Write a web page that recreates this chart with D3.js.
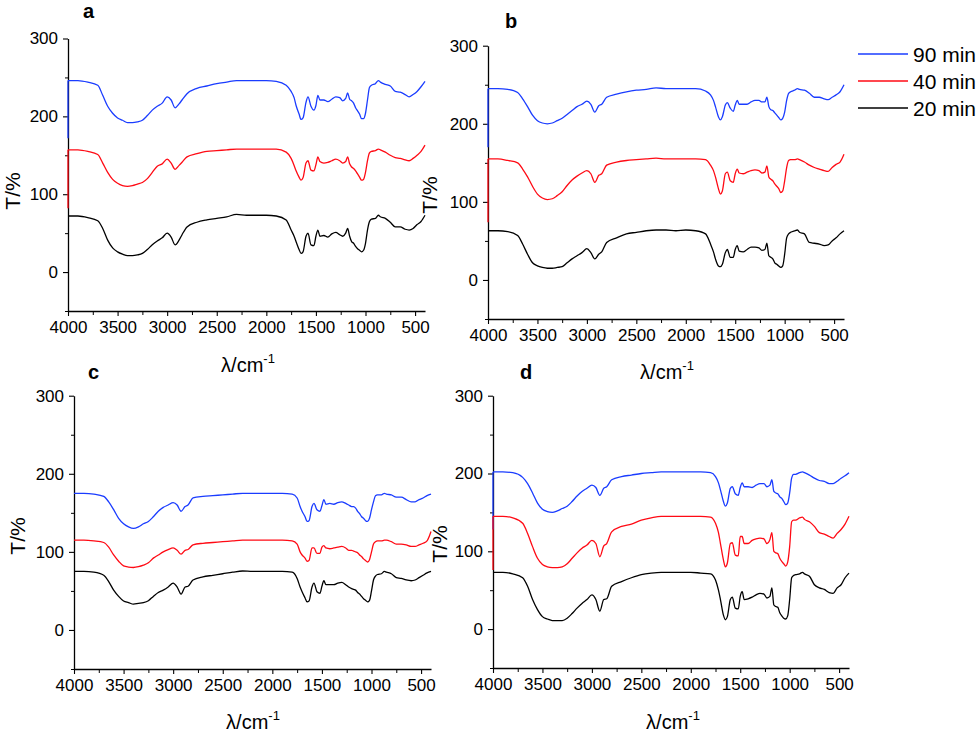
<!DOCTYPE html>
<html>
<head>
<meta charset="utf-8">
<script src="https://cdn.jsdelivr.net/npm/d3@7"></script>
<style>
  body { margin: 0; background: #fff; }
  svg { display: block; font-family: "Liberation Sans", Arial, sans-serif; }
</style>
</head>
<body>
<div id="chart"></div>
<script>
// wavenumber grid (cm-1) shared by all spectra
const WAVENUMBERS = [
  4000, 3900, 3800, 3700, 3650, 3600, 3550, 3500, 3450, 3400,
  3350, 3300, 3250, 3200, 3150, 3100, 3050, 3000, 2960, 2920,
  2880, 2850, 2800, 2700, 2600, 2500, 2400, 2300, 2200, 2100,
  2000, 1900, 1800, 1750, 1720, 1700, 1670, 1650, 1630, 1600,
  1580, 1550, 1520, 1500, 1480, 1460, 1420, 1380, 1340, 1300,
  1260, 1230, 1200, 1180, 1160, 1140, 1120, 1100, 1080, 1060,
  1040, 1020, 1000, 980, 960, 940, 900, 870, 850, 800,
  750, 700, 650, 600, 560, 520, 480, 440, 400
];

const SERIES_NAMES = ["90 min", "40 min", "20 min"];
const PANEL_LABELS = ["a", "b", "c", "d"];
const X_TICKS = [4000, 3500, 3000, 2500, 2000, 1500, 1000, 500];
const Y_TICKS = [0, 100, 200, 300];

// panel a
const A_90 = [
  246, 246, 244, 240, 227, 213, 204, 198, 195, 192,
  192, 193, 195, 201, 208, 213, 217, 225, 221, 211,
  216, 221, 229, 236, 239, 242, 244, 246, 246, 246,
  246, 245, 240, 232, 224, 214, 203, 196, 198, 218,
  225, 213, 208, 214, 227, 221, 221, 219, 222, 225,
  224, 220, 223, 230, 222, 220, 217, 211, 207, 203,
  197, 197, 204, 221, 237, 240, 242, 246, 244, 241,
  239, 232, 231, 228, 225, 228, 232, 238, 245
];
const A_40 = [
  157, 157, 155, 151, 140, 128, 119, 114, 111, 110,
  111, 113, 115, 120, 128, 136, 139, 145, 140, 132,
  137, 141, 148, 152, 155, 156, 157, 158, 158, 158,
  158, 158, 154, 146, 137, 130, 122, 118, 121, 140,
  143, 131, 130, 138, 148, 142, 140, 141, 143, 145,
  143, 140, 142, 148, 139, 135, 133, 130, 126, 122,
  118, 119, 128, 143, 153, 155, 156, 158, 157, 154,
  150, 147, 146, 144, 143, 146, 150, 155, 163
];
const A_20 = [
  72, 72, 70, 66, 56, 41, 31, 26, 23, 21,
  21, 22, 24, 29, 35, 40, 44, 50, 45, 35,
  41, 48, 58, 64, 67, 69, 71, 74, 73, 73,
  73, 72, 67, 54, 46, 39, 29, 24, 26, 46,
  50, 35, 34, 46, 54, 46, 47, 45, 49, 51,
  48, 46, 50, 56, 46, 39, 37, 33, 30, 28,
  26, 28, 37, 54, 65, 68, 69, 73, 71, 69,
  64, 58, 58, 55, 54, 56, 61, 65, 73
];

// panel b
const B_90 = [
  245, 245, 244, 240, 232, 222, 211, 204, 201, 200,
  201, 204, 207, 212, 217, 222, 225, 229, 225, 215,
  223, 225, 234, 238, 241, 243, 244, 246, 245, 245,
  245, 245, 242, 237, 230, 222, 209, 205, 209, 224,
  227, 220, 216, 224, 230, 225, 225, 225, 228, 230,
  230, 228, 228, 234, 222, 218, 217, 214, 211, 208,
  205, 207, 215, 230, 239, 241, 243, 245, 244, 243,
  239, 234, 234, 232, 231, 234, 237, 241, 250
];
const B_40 = [
  155, 155, 153, 150, 142, 132, 120, 110, 105, 103,
  104, 108, 113, 121, 128, 133, 137, 140, 136, 125,
  134, 136, 147, 151, 153, 154, 155, 156, 155, 155,
  155, 155, 154, 147, 140, 132, 117, 110, 114, 136,
  138, 127, 125, 136, 142, 137, 136, 138, 140, 141,
  140, 137, 138, 146, 132, 129, 127, 123, 120, 117,
  112, 114, 127, 144, 153, 154, 154, 155, 154, 151,
  147, 144, 142, 140, 139, 144, 148, 151, 161
];
const B_20 = [
  63, 63, 62, 57, 46, 33, 22, 18, 16, 15,
  15, 16, 17, 22, 27, 31, 35, 40, 35, 27,
  33, 36, 48, 54, 59, 61, 63, 64, 64, 63,
  64, 63, 59, 46, 36, 27, 18, 17, 20, 35,
  39, 29, 29, 39, 44, 37, 36, 39, 42, 42,
  41, 38, 39, 47, 31, 29, 27, 22, 20, 18,
  16, 18, 33, 54, 59, 61, 63, 64, 61, 59,
  48, 47, 46, 44, 45, 50, 54, 59, 63
];

// panel c
const C_90 = [
  175, 175, 174, 171, 164, 154, 143, 136, 132, 130,
  132, 136, 139, 145, 152, 157, 160, 163, 160, 152,
  158, 160, 169, 171, 172, 173, 174, 175, 175, 175,
  175, 175, 174, 169, 158, 152, 145, 139, 140, 158,
  162, 154, 152, 159, 167, 161, 162, 161, 163, 164,
  162, 160, 158, 158, 156, 152, 149, 145, 143, 140,
  139, 143, 154, 164, 172, 173, 173, 175, 174, 173,
  170, 170, 167, 164, 164, 167, 169, 172, 174
];
const C_40 = [
  115, 115, 114, 112, 106, 96, 88, 82, 80.5, 80,
  81, 83, 86, 92, 96, 100, 103, 105, 102, 97,
  102, 103, 109, 111, 112, 113, 114, 115, 115, 115,
  115, 115, 114, 110, 100, 96, 92, 88, 89, 105,
  105, 98, 98, 106, 108, 105, 104, 105, 106, 107,
  105, 102, 102, 101, 100, 99, 96, 94, 91, 89,
  87, 90, 100, 110, 113, 114, 114, 115, 115, 113,
  110, 110, 109, 107, 107, 109, 111, 114, 126
];
const C_20 = [
  75, 75, 74, 70, 62, 51, 43, 37, 35, 33,
  34, 35, 37.5, 43, 48, 51, 55, 60, 55, 46,
  55, 56, 64, 68, 70, 72, 74, 75.5, 75, 75,
  75, 75, 74, 66, 55, 49, 41, 36, 37, 55,
  60, 49, 47, 56, 63, 58, 58, 58, 60, 61,
  58, 55, 53, 52, 51, 48, 46, 43, 40, 38,
  36, 38, 50, 64, 69, 71, 72, 75, 74, 72,
  67, 66, 64, 63, 64, 67, 70, 73, 75
];

// panel d
const D_90 = [
  202, 202, 201, 195, 187, 175, 162, 154, 151, 150,
  152, 155, 158, 164, 171, 177, 181, 185, 182, 172,
  181, 183, 192, 196, 198, 200, 201, 202, 202, 202,
  202, 202, 201, 196, 188, 179, 164, 158, 162, 181,
  183, 174, 172, 182, 188, 183, 183, 182, 185, 187,
  187, 183, 185, 192, 177, 175, 174, 170, 168, 164,
  160, 162, 175, 194, 199, 199, 201, 202, 201, 198,
  194, 191, 190, 187, 187, 190, 194, 197, 201
];
const D_40 = [
  145, 145, 143, 136, 123, 106, 91, 83, 80, 79,
  79, 80, 84, 91, 98, 104, 108, 114, 110, 93,
  107, 110, 125, 132, 135, 140, 143, 145, 145, 145,
  145, 145, 144, 136, 124, 110, 89, 80, 85, 110,
  111, 95, 94, 119, 119, 110, 110, 114, 116, 117,
  116, 110, 115, 124, 100, 98, 97, 91, 87, 84,
  81, 86, 106, 138, 140, 140, 143, 144, 141, 138,
  132, 124, 122, 119, 117, 123, 128, 135, 145
];
const D_20 = [
  73, 73, 71, 66, 55, 38, 25, 16, 13, 11,
  11, 11, 14, 20, 27, 33, 38, 44, 38, 23,
  38, 39, 55, 61, 66, 70, 72, 73, 73, 73,
  73, 72, 71, 63, 50, 38, 18, 12, 16, 38,
  41, 27, 26, 42, 48, 38, 39, 41, 44, 46,
  45, 40, 42, 53, 31, 29, 28, 21, 17, 14,
  13, 17, 38, 66, 69, 70, 71, 73, 71, 68,
  57, 53, 51, 47, 46, 53, 57, 66, 72
];

// value at 4000 where each trace first drops in along the axis (90, 40, 20 min)
const START_DROP = [
  [172, 82, null],
  [170, 74, null],
  [null, null, null],
  [128, 76, null]
];

const PANEL_DATA = [
  [A_90, A_40, A_20],
  [B_90, B_40, B_20],
  [C_90, C_40, C_20],
  [D_90, D_40, D_20]
];

const colors = ["#1a3cff", "#ff0a14", "#000000"];

// layout (pixels)
const panels = [
  { x0: 68,  x1: 425, yTop: 38.5, yBot: 311, label: [83, 18],  xTitle: [248, 372], yTitle: [20, 191] },
  { x0: 488, x1: 844, yTop: 45.7, yBot: 319, label: [505, 28], xTitle: [667, 379], yTitle: [437, 195] },
  { x0: 74,  x1: 431, yTop: 395.7, yBot: 669, label: [88, 379], xTitle: [253, 729], yTitle: [25, 536] },
  { x0: 493, x1: 849, yTop: 395.7, yBot: 668, label: [520, 379], xTitle: [673, 729], yTitle: [447, 544] }
];

const svg = d3.select("#chart").append("svg")
  .attr("width", 980)
  .attr("height", 732);

panels.forEach((p, k) => {
  const x = d3.scaleLinear().domain([4000, 400]).range([p.x0, p.x1]);
  const y = d3.scaleLinear().domain([-50, 300]).range([p.yBot, p.yTop]);

  const g = svg.append("g");

  // minor ticks
  g.append("g")
    .attr("transform", "translate(0," + p.yBot + ")")
    .call(d3.axisBottom(x).tickValues(d3.range(3750, 400, -500)).tickSize(4).tickSizeOuter(0).tickFormat(""))
    .call(a => a.select(".domain").remove());
  g.append("g")
    .attr("transform", "translate(" + p.x0 + ",0)")
    .call(d3.axisLeft(y).tickValues([-50, 50, 150, 250]).tickSize(3).tickSizeOuter(0).tickFormat(""))
    .call(a => a.select(".domain").remove());

  // major axes
  const xAxis = g.append("g")
    .attr("transform", "translate(0," + p.yBot + ")")
    .call(d3.axisBottom(x).tickValues(X_TICKS).tickSize(5).tickSizeOuter(0).tickPadding(5).tickFormat(d3.format("d")));
  const yAxis = g.append("g")
    .attr("transform", "translate(" + p.x0 + ",0)")
    .call(d3.axisLeft(y).tickValues(Y_TICKS).tickSize(5).tickSizeOuter(0).tickPadding(5).tickFormat(d3.format("d")));

  [xAxis, yAxis].forEach(a => {
    a.attr("font-family", null).attr("font-size", null);
    a.selectAll("text").style("font-size", "17px").attr("fill", "#000");
    a.select(".domain").attr("stroke-width", 1.3);
    a.selectAll(".tick line").attr("stroke-width", 1.1);
  });
  xAxis.selectAll("text").attr("dy", "0.72em");

  // spectra
  const line = d3.line()
    .x((d, i) => x(WAVENUMBERS[i]))
    .y(d => y(d))
    .curve(d3.curveMonotoneX);

  PANEL_DATA[k].forEach((vals, s) => {
    g.append("path")
      .attr("d", line(vals))
      .attr("fill", "none")
      .attr("stroke", colors[s])
      .attr("stroke-width", 1.3)
      .attr("stroke-linejoin", "round");

    const drop = START_DROP[k][s];
    if (drop != null) {
      g.append("line")
        .attr("x1", x(4000)).attr("x2", x(4000))
        .attr("y1", y(drop)).attr("y2", y(vals[0]))
        .attr("stroke", colors[s])
        .attr("stroke-width", 1.3);
    }
  });

  // panel letter
  svg.append("text")
    .attr("x", p.label[0]).attr("y", p.label[1])
    .style("font-size", "20px").style("font-weight", "bold")
    .text(PANEL_LABELS[k]);

  // axis titles
  const xt = svg.append("text")
    .attr("x", p.xTitle[0]).attr("y", p.xTitle[1])
    .attr("text-anchor", "middle")
    .style("font-size", "20px");
  xt.append("tspan").text("λ/cm");
  xt.append("tspan").attr("dy", "-9").style("font-size", "13px").text("-1");

  svg.append("text")
    .attr("transform", "translate(" + p.yTitle[0] + "," + p.yTitle[1] + ") rotate(-90)")
    .attr("text-anchor", "middle")
    .style("font-size", "21px")
    .text("T/%");
});

// legend
const legend = svg.append("g");
SERIES_NAMES.forEach((name, i) => {
  const yy = 54 + i * 27;
  legend.append("line")
    .attr("x1", 858).attr("x2", 908)
    .attr("y1", yy).attr("y2", yy)
    .attr("stroke", colors[i])
    .attr("stroke-width", 1.3);
  legend.append("text")
    .attr("x", 913).attr("y", yy)
    .attr("dy", "0.36em")
    .style("font-size", "21px")
    .text(name);
});
</script>
</body>
</html>
